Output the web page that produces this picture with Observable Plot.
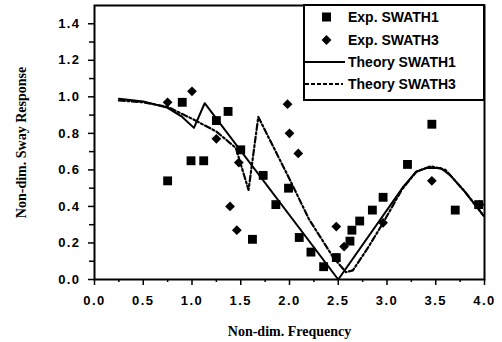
<!DOCTYPE html>
<html>
<head>
<meta charset="utf-8">
<script src="https://cdn.jsdelivr.net/npm/d3@7"></script>
<script src="https://cdn.jsdelivr.net/npm/@observablehq/plot@0.6"></script>
<style>
  html, body { margin: 0; padding: 0; background: #fff; }
  #chart { position: relative; width: 502px; height: 342px; }
  #chart svg text { fill: #000; }
  g[aria-label="x-axis tick label"] text,
  g[aria-label="y-axis tick label"] text { letter-spacing: 1.4px; }
  #legend {
    position: absolute; left: 303px; top: 4px; width: 182px; height: 97px;
    box-sizing: border-box; border: 2px solid #000; background: #fff;
  }
  #legend text { font: bold 14px "Liberation Sans", Arial, sans-serif; }
</style>
</head>
<body>
<div id="chart"></div>
<script>
// Experimental sway response, SWATH1 (squares)
const exp1Freq = [0.75, 0.90, 0.99, 1.12, 1.25, 1.37, 1.50, 1.62, 1.73, 1.86, 1.99, 2.10, 2.22, 2.35, 2.48, 2.62, 2.64, 2.72, 2.85, 2.96, 3.21, 3.46, 3.70, 3.94];
const exp1Resp = [0.54, 0.97, 0.65, 0.65, 0.87, 0.92, 0.71, 0.22, 0.57, 0.41, 0.50, 0.23, 0.15, 0.07, 0.12, 0.21, 0.27, 0.32, 0.38, 0.45, 0.63, 0.85, 0.38, 0.41];

// Experimental sway response, SWATH3 (diamonds)
const exp3Freq = [0.75, 1.00, 1.25, 1.39, 1.46, 1.48, 1.98, 2.00, 2.09, 2.48, 2.56, 2.96, 3.46, 3.95];
const exp3Resp = [0.97, 1.03, 0.77, 0.40, 0.27, 0.64, 0.96, 0.80, 0.69, 0.29, 0.18, 0.31, 0.54, 0.41];

// Theory, SWATH1 (solid)
const th1Freq = [0.25, 0.50, 0.75, 0.90, 1.02, 1.13, 2.50, 3.17, 3.30, 3.40, 3.55, 3.65, 3.80, 3.99];
const th1Resp = [0.99, 0.975, 0.94, 0.89, 0.83, 0.965, 0.00, 0.51, 0.59, 0.61, 0.61, 0.57, 0.48, 0.35];

// Theory, SWATH3 (dash-dot)
const th3Freq = [0.25, 0.50, 0.75, 1.00, 1.25, 1.45, 1.58, 1.68, 1.85, 2.00, 2.20, 2.45, 2.58, 2.65, 2.80, 2.96, 3.15, 3.30, 3.45, 3.60, 3.80, 3.99];
const th3Resp = [0.98, 0.97, 0.945, 0.88, 0.81, 0.72, 0.49, 0.89, 0.71, 0.55, 0.33, 0.12, 0.04, 0.05, 0.17, 0.31, 0.49, 0.59, 0.62, 0.60, 0.48, 0.35];

// Axis ticks
const xMajor = [0, 0.5, 1, 1.5, 2, 2.5, 3, 3.5, 4];
const xMinor = [0.25, 0.75, 1.25, 1.75, 2.25, 2.75, 3.25, 3.75];
const yMajor = [0, 0.2, 0.4, 0.6, 0.8, 1.0, 1.2, 1.4];
const yMinor = [0.1, 0.3, 0.5, 0.7, 0.9, 1.1, 1.3];

const legendLabels = ["Exp. SWATH1", "Exp. SWATH3", "Theory SWATH1", "Theory SWATH3"];
const xTitle = "Non-dim. Frequency";
const yTitle = "Non-dim. Sway Response";

const zip = (xs, ys) => xs.map((x, i) => ({x, y: ys[i]}));
const exp1 = zip(exp1Freq, exp1Resp);
const exp3 = zip(exp3Freq, exp3Resp);
const th1 = zip(th1Freq, th1Resp);
const th3 = zip(th3Freq, th3Resp);

const dashDot = "6 2.5 2 2.5";
const serif = "'Liberation Serif', 'Times New Roman', serif";

const chart = Plot.plot({
  width: 502,
  height: 342,
  marginLeft: 94,
  marginRight: 18,
  marginTop: 5,
  marginBottom: 63,
  style: {fontFamily: "'Liberation Sans', Arial, sans-serif", fontSize: "13px", fontWeight: "bold", background: "#fff", color: "#000"},
  x: {domain: [0, 4]},
  y: {domain: [0, 1.5]},
  marks: [
    Plot.axisX(xMinor, {tickSize: 3, tickFormat: null, text: null, strokeWidth: 1.5, label: null}),
    Plot.axisX(xMajor, {tickSize: 6, tickPadding: 10, tickFormat: d3.format(".1f"), strokeWidth: 1.5, label: null}),
    Plot.axisY(yMinor, {tickSize: 5, tickFormat: null, text: null, strokeWidth: 1.5, label: null}),
    Plot.axisY(yMajor, {tickSize: 6, tickPadding: 8, tickFormat: d3.format(".1f"), strokeWidth: 1.5, label: null}),
    Plot.frame({stroke: "#000", strokeWidth: 2}),
    Plot.line(th1, {x: "x", y: "y", stroke: "#000", strokeWidth: 2}),
    Plot.line(th3, {x: "x", y: "y", stroke: "#000", strokeWidth: 2.2, strokeDasharray: dashDot}),
    Plot.dot(exp1, {x: "x", y: "y", symbol: "square", r: 5, fill: "#000", stroke: "none"}),
    Plot.dot(exp3, {x: "x", y: "y", symbol: "square", r: 3.9, rotate: 45, fill: "#000", stroke: "none"}),
    Plot.text([xTitle], {frameAnchor: "bottom", dy: 52, lineAnchor: "middle", fontFamily: serif, fontSize: 14, fontWeight: "bold"}),
    Plot.text([yTitle], {frameAnchor: "left", dx: -73, rotate: -90, textAnchor: "middle", fontFamily: serif, fontSize: 14, fontWeight: "bold"})
  ]
});

const holder = document.getElementById("chart");
holder.appendChild(chart);

// Legend box inside the top-right corner of the plot area
const legend = d3.select(holder).append("div").attr("id", "legend")
  .append("svg").attr("width", 178).attr("height", 93);
const rowY = [11, 34, 56, 78];
legendLabels.forEach((label, i) => {
  const g = legend.append("g").attr("transform", `translate(0,${rowY[i]})`);
  if (i === 0) g.append("rect").attr("x", 17).attr("y", -4.5).attr("width", 9).attr("height", 9).attr("fill", "#000");
  if (i === 1) g.append("rect").attr("x", -3.5).attr("y", -3.5).attr("width", 7).attr("height", 7)
    .attr("fill", "#000").attr("transform", "translate(21.5,0) rotate(45)");
  if (i === 2) g.append("line").attr("x1", 0).attr("x2", 40).attr("stroke", "#000").attr("stroke-width", 2);
  if (i === 3) g.append("line").attr("x1", 0).attr("x2", 38).attr("stroke", "#000").attr("stroke-width", 2).attr("stroke-dasharray", "4 2");
  g.append("text").attr("x", 43).attr("dy", "0.35em").text(label);
});
</script>
</body>
</html>
